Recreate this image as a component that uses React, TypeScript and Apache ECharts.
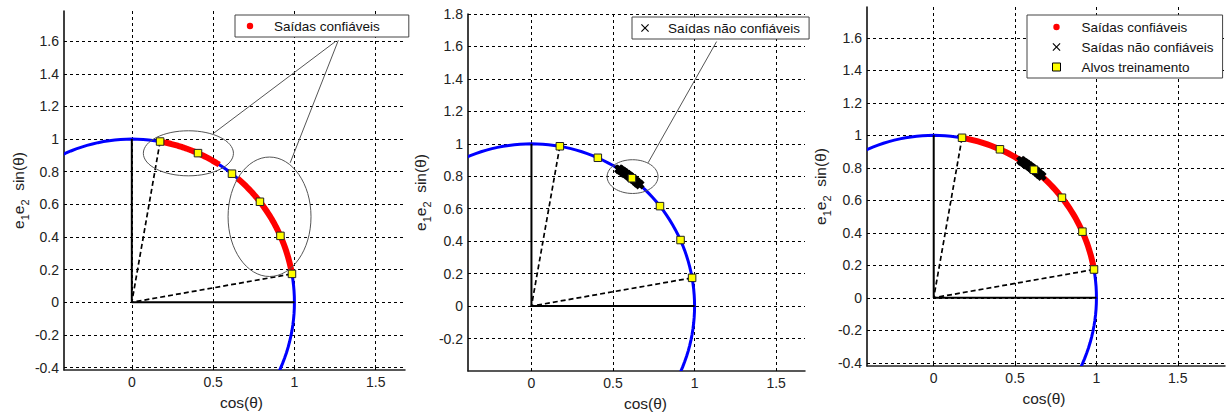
import React, { useEffect, useRef } from "react";
import * as echarts from "echarts";

// ---------- data ----------
const xTicks = [0, 0.5, 1, 1.5];
const yTicksA = [-0.4, -0.2, 0, 0.2, 0.4, 0.6, 0.8, 1, 1.2, 1.4, 1.6];
const yTicksB = [-0.2, 0, 0.2, 0.4, 0.6, 0.8, 1, 1.2, 1.4, 1.6, 1.8];

// unit circle: centre x, centre y, radius
const unitCircle = [[0, 0, 1]];

// training targets (yellow squares)
const targets = [
  [0.174, 0.985],
  [0.407, 0.914],
  [0.616, 0.788],
  [0.788, 0.616],
  [0.914, 0.407],
  [0.985, 0.174],
];

// reliable outputs: arcs of the unit circle, [start angle, end angle] in degrees
const reliableArcsLeft = [
  [57.5, 80],
  [10.5, 49.5],
];
const reliableArcsRight = [[10.5, 80]];

// unreliable outputs (black crosses)
const unreliableOutputs = [
  [0.537, 0.843],
  [0.545, 0.839],
  [0.559, 0.829],
  [0.566, 0.824],
  [0.574, 0.819],
  [0.588, 0.809],
  [0.602, 0.799],
  [0.609, 0.793],
  [0.623, 0.783],
  [0.636, 0.772],
  [0.649, 0.76],
  [0.663, 0.749],
];

const frameLines = [
  [0, 1],
  [0, 0],
  [1, 0],
];
const boundaryLines = [
  [0.174, 0.985],
  [0, 0],
  [0.985, 0.174],
];

// annotation ellipses: cx, cy, rx, ry
const ellipsesLeft = [
  [0.348, 0.913, 0.277, 0.138],
  [0.847, 0.524, 0.255, 0.366],
];
const ellipsesMiddle = [[0.62, 0.798, 0.156, 0.104]];

// annotation pointers: x1, y1, x2, y2
const pointersLeft = [
  [1.255, 1.6, 0.502, 1.035],
  [1.27, 1.605, 0.974, 0.855],
];
const pointersMiddle = [[1.135, 1.63, 0.715, 0.883]];

const NAME_OK = "Saídas confiáveis";
const NAME_BAD = "Saídas não confiáveis";
const NAME_TGT = "Alvos treinamento";

// ---------- styles ----------
const FONT = "Liberation Sans, Arial, sans-serif";
const crossPath =
  "path://M0,3L3,0L5,2L7,0L10,3L8,5L10,7L7,10L5,8L3,10L0,7L2,5Z";
const thinCrossPath =
  "path://M0,1L1,0L5,4L9,0L10,1L6,5L10,9L9,10L5,6L1,10L0,9L4,5Z";
const dotPath = "path://M0,0M10,10M1,5A4,4,0,1,1,9,5A4,4,0,1,1,1,5Z";

const circleItem = (params: any, api: any) => {
  const cx = api.value(0);
  const cy = api.value(1);
  const r = api.value(2);
  const pts: number[][] = [];
  for (let d = 0; d <= 360; d += 2) {
    const t = (d * Math.PI) / 180;
    pts.push(api.coord([cx + r * Math.cos(t), cy + r * Math.sin(t)]));
  }
  return {
    type: "polyline",
    shape: { points: pts },
    style: { stroke: "#0000ff", lineWidth: 3, fill: "none" },
  };
};

const arcItem = (params: any, api: any) => {
  const a0 = api.value(0);
  const a1 = api.value(1);
  const pts: number[][] = [];
  const n = 60;
  for (let i = 0; i <= n; i++) {
    const t = ((a0 + ((a1 - a0) * i) / n) * Math.PI) / 180;
    pts.push(api.coord([Math.cos(t), Math.sin(t)]));
  }
  return {
    type: "polyline",
    shape: { points: pts },
    style: { stroke: "#ff0000", lineWidth: 6, fill: "none" },
  };
};

const ellipseItem = (params: any, api: any) => {
  const c = api.coord([api.value(0), api.value(1)]);
  const rx = api.size([api.value(2), 0])[0];
  const ry = api.size([0, api.value(3)])[1];
  return {
    type: "ellipse",
    shape: { cx: c[0], cy: c[1], rx, ry },
    style: { stroke: "#555", lineWidth: 1, fill: "none" },
  };
};

const pointerItem = (params: any, api: any) => {
  const a = api.coord([api.value(0), api.value(1)]);
  const b = api.coord([api.value(2), api.value(3)]);
  return {
    type: "line",
    shape: { x1: a[0], y1: a[1], x2: b[0], y2: b[1] },
    style: { stroke: "#555", lineWidth: 1 },
  };
};

function panelSeries(idx: number, opts: any) {
  const base = { xAxisIndex: idx, yAxisIndex: idx };
  const s: any[] = [];
  s.push({
    ...base,
    type: "custom",
    name: "circle" + idx,
    clip: true,
    silent: true,
    data: unitCircle,
    renderItem: circleItem,
    z: 2,
  });
  if (opts.reliable) {
    s.push({
      ...base,
      type: "custom",
      name: NAME_OK,
      clip: true,
      silent: true,
      data: opts.reliable,
      renderItem: arcItem,
      itemStyle: { color: "#ff0000" },
      z: 3,
    });
  }
  s.push({
    ...base,
    type: "line",
    name: "frame" + idx,
    data: frameLines,
    symbol: "none",
    silent: true,
    lineStyle: { color: "#000", width: 2 },
    z: 4,
  });
  s.push({
    ...base,
    type: "line",
    name: "boundary" + idx,
    data: boundaryLines,
    symbol: "none",
    silent: true,
    lineStyle: { color: "#000", width: 1.7, type: [5, 3] },
    z: 4,
  });
  if (opts.unreliable) {
    s.push({
      ...base,
      type: "scatter",
      name: NAME_BAD,
      data: unreliableOutputs,
      symbol: crossPath,
      symbolSize: 10,
      silent: true,
      itemStyle: { color: "#000", opacity: 1 },
      z: 5,
    });
  }
  s.push({
    ...base,
    type: "scatter",
    name: NAME_TGT,
    data: targets,
    symbol: "rect",
    symbolSize: 7.5,
    silent: true,
    itemStyle: { color: "#ffff00", borderColor: "#222", borderWidth: 1, opacity: 1 },
    z: 6,
  });
  if (opts.ellipses) {
    s.push({
      ...base,
      type: "custom",
      name: "ellipse" + idx,
      silent: true,
      data: opts.ellipses,
      renderItem: ellipseItem,
      z: 7,
    });
  }
  if (opts.pointers) {
    s.push({
      ...base,
      type: "custom",
      name: "pointer" + idx,
      silent: true,
      data: opts.pointers,
      renderItem: pointerItem,
      z: 7,
    });
  }
  return s;
}

const yName = "{n|e}{s|1}{n|e}{s|2}{n|  sin(θ)}";
const yNameStyle = {
  color: "#222",
  fontFamily: FONT,
  rich: {
    n: { fontSize: 15.5, lineHeight: 18, verticalAlign: "top", fontFamily: FONT, color: "#222" },
    s: {
      fontSize: 11,
      lineHeight: 12,
      padding: [9, 0, 0, 0],
      verticalAlign: "top",
      fontFamily: FONT,
      color: "#222",
    },
  },
};

function xAxis(idx: number, min: number, max: number, namePad: number[]) {
  return {
    gridIndex: idx,
    type: "value",
    min,
    max,
    axisLine: { show: true, onZero: false, lineStyle: { color: "#222", width: 1.5 } },
    axisTick: { show: true, inside: true, length: 3, customValues: xTicks, lineStyle: { color: "#000" } },
    axisLabel: { customValues: xTicks, margin: 5, fontSize: 14, color: "#222", fontFamily: FONT },
    splitLine: { show: true, lineStyle: { color: "#000", width: 1, type: [3, 3] } },
    name: "cos(θ)",
    nameLocation: "middle",
    nameGap: 24,
    nameTextStyle: { fontSize: 15.5, color: "#222", fontFamily: FONT, padding: namePad },
  };
}

function yAxis(idx: number, min: number, max: number, ticks: number[], gap: number) {
  return {
    gridIndex: idx,
    type: "value",
    min,
    max,
    axisLine: { show: true, onZero: false, lineStyle: { color: "#000", width: 1.5 } },
    axisTick: { show: true, inside: true, length: 3, customValues: ticks, lineStyle: { color: "#000" } },
    axisLabel: { customValues: ticks, margin: 5, fontSize: 14, color: "#222", fontFamily: FONT },
    splitLine: { show: true, lineStyle: { color: "#000", width: 1, type: [3, 3] } },
    name: yName,
    nameLocation: "middle",
    nameGap: gap,
    nameTextStyle: yNameStyle,
  };
}

function legend(left: number, top: number, names: string[], padding: number[], textPad: number) {
  const icons: Record<string, any> = {
    [NAME_OK]: { icon: dotPath, itemStyle: { color: "#ff0000", borderWidth: 0 } },
    [NAME_BAD]: { icon: thinCrossPath, itemStyle: { color: "#000", borderWidth: 0 } },
    [NAME_TGT]: { icon: "rect", itemStyle: { color: "#ffff00", borderColor: "#000", borderWidth: 1 } },
  };
  return {
    left,
    top,
    orient: "vertical",
    selectedMode: false,
    itemWidth: 8,
    itemHeight: 8,
    itemGap: 6,
    padding,
    backgroundColor: "#fff",
    borderColor: "#444",
    borderWidth: 1,
    textStyle: { fontSize: 13.5, color: "#111", fontFamily: FONT, padding: [0, 0, 0, textPad] },
    data: names.map((n) => ({ name: n, ...icons[n] })),
    z: 10,
  };
}

export default function App() {
  const ref = useRef<HTMLDivElement>(null);
  useEffect(() => {
    if (!ref.current) return;
    const chart = echarts.init(ref.current, undefined, { renderer: "svg" });
    chart.setOption({
      animation: false,
      backgroundColor: "#fff",
      grid: [
        { left: 64, top: 11, width: 341, height: 359 },
        { left: 468, top: 14, width: 337, height: 359 },
        { left: 867, top: 7, width: 358, height: 359 },
      ],
      xAxis: [
        xAxis(0, -0.417, 1.68, [0, 0, 0, 14]),
        xAxis(1, -0.389, 1.677, [0, 0, 0, 18]),
        xAxis(2, -0.41, 1.79, [0, 4, 0, 0]),
      ],
      yAxis: [
        yAxis(0, -0.415, 1.785, yTicksA, 36),
        yAxis(1, -0.4, 1.8, yTicksB, 38),
        yAxis(2, -0.42, 1.79, yTicksA, 37),
      ],
      legend: [
        legend(235, 15, [NAME_OK], [4, 29, 4, 11], 15),
        legend(632, 17, [NAME_BAD], [4, 9, 4, 9], 14),
        legend(1027, 15, [NAME_OK, NAME_BAD, NAME_TGT], [5, 9, 4, 25], 16),
      ],
      series: [
        ...panelSeries(0, { reliable: reliableArcsLeft, ellipses: ellipsesLeft, pointers: pointersLeft }),
        ...panelSeries(1, { unreliable: true, ellipses: ellipsesMiddle, pointers: pointersMiddle }),
        ...panelSeries(2, { reliable: reliableArcsRight, unreliable: true }),
      ],
    });
    return () => chart.dispose();
  }, []);
  return (
    <div
      ref={ref}
      style={{ position: "fixed", left: 0, top: 0, width: 1230, height: 416, background: "#fff" }}
    />
  );
}
